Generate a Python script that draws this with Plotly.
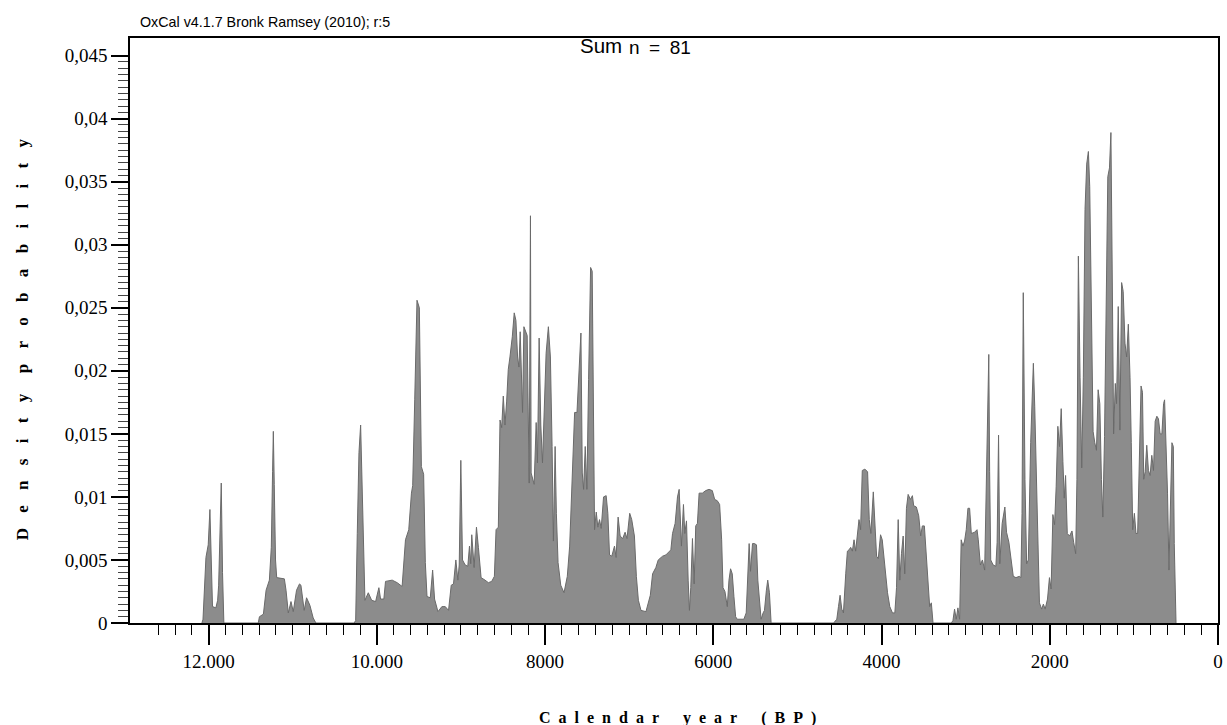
import plotly.graph_objects as go

# summed probability (calendar years BP -> density)
years = [
    12080, 12067, 12032, 12005, 11985, 11970, 11954, 11914, 11893, 11881, 11862, 11850, 11835, 11819,
    11410, 11396, 11349, 11317, 11278, 11255, 11240, 11231, 11220, 11205, 11191, 11100, 11080, 11053,
    11021, 10994, 10955, 10920, 10903, 10864, 10836, 10796, 10757, 10725,
    10270, 10252, 10233, 10213, 10193, 10180, 10165, 10142, 10102, 10062, 10015, 9976, 9956, 9917,
    9897, 9818, 9759, 9700, 9660, 9621, 9589, 9574, 9550, 9523, 9495, 9485, 9471, 9444, 9424, 9404,
    9365, 9337, 9314, 9274, 9227, 9187, 9148, 9116, 9089, 9061, 9037, 9021, 9002, 8982, 8950, 8919,
    8899, 8884, 8872, 8844, 8816, 8793, 8761, 8714, 8674, 8635, 8603, 8583, 8556, 8536, 8516, 8497,
    8477, 8457, 8438, 8418, 8390, 8367, 8347, 8327, 8311, 8296, 8280, 8268, 8252, 8233, 8213, 8189,
    8174, 8166, 8130, 8106, 8091, 8071, 8051, 8031, 8012, 7988, 7961, 7937, 7917, 7901, 7881, 7866,
    7846, 7814, 7775, 7736, 7708, 7680, 7649, 7621, 7601, 7574, 7558, 7542, 7523, 7503, 7483, 7459,
    7440, 7424, 7412, 7392, 7373, 7353, 7333, 7305, 7274, 7254, 7234, 7207, 7175, 7156, 7132, 7108,
    7077, 7049, 7026, 6994, 6970, 6938, 6915, 6891, 6860, 6801, 6781, 6749, 6722, 6683, 6655, 6603,
    6564, 6525, 6505, 6485, 6454, 6426, 6406, 6379, 6355, 6339, 6319, 6299, 6284, 6268, 6248, 6228,
    6209, 6189, 6169, 6130, 6091, 6051, 6012, 5984, 5953, 5925, 5901, 5885, 5862, 5834, 5814, 5795,
    5775, 5755, 5735, 5716, 5637, 5609, 5589, 5574, 5558, 5534, 5511, 5487, 5471, 5452, 5432, 5408,
    5392, 5369, 5353, 5333, 5313,
    4570, 4532, 4512, 4493, 4473, 4453, 4426, 4406, 4387, 4367, 4347, 4327, 4308, 4288, 4268, 4249,
    4229, 4198, 4166, 4146, 4127, 4098, 4083, 4059, 4039, 4012, 3992, 3972, 3949, 3929, 3902, 3870,
    3842, 3822, 3802, 3783, 3763, 3743, 3724, 3704, 3684, 3657, 3633, 3618, 3586, 3558, 3535, 3515,
    3491, 3467, 3447, 3428, 3408, 3388,
    3170, 3151, 3132, 3112, 3092, 3072, 3053, 3033, 3013, 2993, 2973, 2953, 2933, 2893, 2865, 2850,
    2825, 2801, 2774, 2754, 2725, 2715, 2702, 2673, 2641, 2626, 2609, 2594, 2566, 2534, 2514, 2486,
    2463, 2434, 2402, 2362, 2343, 2330, 2315, 2295, 2275, 2255, 2227, 2195, 2179, 2163, 2143, 2123,
    2096, 2076, 2055, 2027, 2004, 1984, 1963, 1943, 1924, 1904, 1884, 1864, 1844, 1828, 1812, 1792,
    1764, 1736, 1716, 1692, 1677, 1660, 1640, 1620, 1601, 1581, 1561, 1541, 1525, 1505, 1485, 1465,
    1445, 1425, 1405, 1386, 1369, 1349, 1329, 1310, 1290, 1273, 1258, 1241, 1221, 1206, 1186, 1166,
    1146, 1127, 1106, 1086, 1066, 1046, 1031, 1014, 994, 975, 955, 935, 915, 898, 883, 866,
    847, 827, 807, 787, 767, 747, 727, 708, 688, 667, 647, 635, 619, 600, 583, 568,
    548, 531, 520, 499,
]
density = [
    0, 0.0003, 0.0052, 0.0062, 0.0090, 0.0040, 0.0013, 0.0012, 0.0018, 0.0030, 0.0080, 0.0111, 0.0040, 0,
    0, 0.0005, 0.0007, 0.0026, 0.0034, 0.0060, 0.0120, 0.0152, 0.0110, 0.0050, 0.0036, 0.0035, 0.0026, 0.0008,
    0.0017, 0.0009, 0.0026, 0.0031, 0.0030, 0.0010, 0.0020, 0.0014, 0.0004, 0,
    0, 0.0002, 0.0071, 0.0135, 0.0157, 0.0120, 0.0070, 0.0018, 0.0024, 0.0018, 0.0017, 0.0028, 0.0019, 0.0019,
    0.0033, 0.0034, 0.0032, 0.0029, 0.0066, 0.0074, 0.0103, 0.0109, 0.0177, 0.0256, 0.0250, 0.0200, 0.0124, 0.0118, 0.0048, 0.0021,
    0.0020, 0.0042, 0.0019, 0.0009, 0.0013, 0.0013, 0.0010, 0.0030, 0.0031, 0.0050, 0.0034, 0.0046, 0.0129, 0.0050, 0.0046, 0.0045,
    0.0061, 0.0047, 0.0070, 0.0044, 0.0076, 0.0060, 0.0036, 0.0034, 0.0032, 0.0033, 0.0037, 0.0074, 0.0076, 0.0161, 0.0155, 0.0180,
    0.0157, 0.0176, 0.0201, 0.0211, 0.0227, 0.0246, 0.0240, 0.0211, 0.0203, 0.0231, 0.0193, 0.0167, 0.0235, 0.0231, 0.0228, 0.0111,
    0.0323, 0.0119, 0.0110, 0.0159, 0.0127, 0.0226, 0.0157, 0.0127, 0.0167, 0.0214, 0.0235, 0.0211, 0.0140, 0.0065, 0.0140, 0.0087,
    0.0048, 0.0030, 0.0024, 0.0037, 0.0061, 0.0110, 0.0167, 0.0167, 0.0198, 0.0230, 0.0119, 0.0106, 0.0140, 0.0106, 0.0193, 0.0282,
    0.0279, 0.0140, 0.0074, 0.0088, 0.0076, 0.0082, 0.0075, 0.0100, 0.0101, 0.0087, 0.0054, 0.0053, 0.0061, 0.0052, 0.0084, 0.0069,
    0.0067, 0.0072, 0.0067, 0.0087, 0.0082, 0.0069, 0.0037, 0.0018, 0.0010, 0.0009, 0.0015, 0.0022, 0.0039, 0.0044, 0.0050, 0.0053,
    0.0054, 0.0057, 0.0058, 0.0071, 0.0079, 0.0100, 0.0106, 0.0061, 0.0094, 0.0071, 0.0081, 0.0034, 0.0010, 0.0028, 0.0067, 0.0031,
    0.0077, 0.0079, 0.0103, 0.0103, 0.0105, 0.0106, 0.0105, 0.0098, 0.0097, 0.0094, 0.0066, 0.0028, 0.0025, 0.0013, 0.0034, 0.0043,
    0.0039, 0.0021, 0.0005, 0.0003, 0.0003, 0.0008, 0.0045, 0.0063, 0.0041, 0.0063, 0.0063, 0.0062, 0.0034, 0.0018, 0.0003, 0.0008,
    0.0010, 0.0026, 0.0034, 0.0024, 0,
    0, 0.0003, 0.0013, 0.0022, 0.0011, 0.0008, 0.0039, 0.0057, 0.0058, 0.0060, 0.0057, 0.0066, 0.0057, 0.0071, 0.0082, 0.0074,
    0.0121, 0.0122, 0.0120, 0.0082, 0.0071, 0.0104, 0.0082, 0.0053, 0.0051, 0.0070, 0.0066, 0.0052, 0.0032, 0.0024, 0.0013, 0.0008,
    0.0008, 0.0028, 0.0082, 0.0034, 0.0055, 0.0069, 0.0039, 0.0091, 0.0102, 0.0098, 0.0101, 0.0093, 0.0092, 0.0085, 0.0069, 0.0077,
    0.0077, 0.0053, 0.0032, 0.0013, 0.0016, 0,
    0, 0.0002, 0.0011, 0.0003, 0.0012, 0.0003, 0.0066, 0.0061, 0.0065, 0.0074, 0.0091, 0.0091, 0.0071, 0.0072, 0.0074, 0.0066,
    0.0046, 0.0050, 0.0042, 0.0116, 0.0213, 0.0120, 0.0050, 0.0046, 0.0045, 0.0064, 0.0149, 0.0047, 0.0079, 0.0092, 0.0072, 0.0064,
    0.0050, 0.0037, 0.0036, 0.0037, 0.0036, 0.0087, 0.0262, 0.0114, 0.0047, 0.0050, 0.0143, 0.0206, 0.0172, 0.0128, 0.0076, 0.0016,
    0.0011, 0.0015, 0.0011, 0.0019, 0.0036, 0.0027, 0.0086, 0.0078, 0.0108, 0.0156, 0.0140, 0.0170, 0.0128, 0.0099, 0.0117, 0.0071,
    0.0069, 0.0073, 0.0064, 0.0055, 0.0114, 0.0291, 0.0195, 0.0123, 0.0195, 0.0328, 0.0364, 0.0374, 0.0346, 0.0249, 0.0152, 0.0143,
    0.0137, 0.0185, 0.0174, 0.0114, 0.0084, 0.0148, 0.0275, 0.0354, 0.0361, 0.0389, 0.0280, 0.0150, 0.0190, 0.0174, 0.0251, 0.0153,
    0.0270, 0.0263, 0.0222, 0.0211, 0.0237, 0.0195, 0.0143, 0.0074, 0.0087, 0.0071, 0.0071, 0.0143, 0.0188, 0.0183, 0.0114, 0.0120,
    0.0141, 0.0121, 0.0117, 0.0133, 0.0121, 0.0160, 0.0164, 0.0162, 0.0150, 0.0150, 0.0174, 0.0177, 0.0145, 0.0103, 0.0042, 0.0091,
    0.0143, 0.0140, 0.0063, 0,
]

x_tickvals = [12000, 10000, 8000, 6000, 4000, 2000, 0]
x_ticktext = ['12.000', '10.000', '8000', '6000', '4000', '2000', '0']
y_tickvals = [0, 0.005, 0.01, 0.015, 0.02, 0.025, 0.03, 0.035, 0.04, 0.045]
y_ticktext = ['0', '0,005', '0,01', '0,015', '0,02', '0,025', '0,03', '0,035', '0,04', '0,045']

serif = 'Liberation Serif, Times New Roman, serif'
sans = 'Liberation Sans, Arial, sans-serif'

fig = go.Figure()
fig.add_trace(go.Scatter(
    x=years, y=density, mode='lines', fill='tozeroy',
    line=dict(color='#6a6a6a', width=1), fillcolor='#8c8c8c',
    hoverinfo='skip', showlegend=False,
))

fig.update_xaxes(
    range=[12935, 0], showgrid=False, zeroline=False,
    showline=True, linecolor='black', linewidth=1.5, mirror=True,
    tickmode='array', tickvals=x_tickvals, ticktext=x_ticktext,
    ticks='outside', ticklen=20, tickwidth=1.5, tickcolor='black',
    tickfont=dict(family=serif, size=19, color='black'),
    minor=dict(tickmode='array', tickvals=list(range(200, 12601, 200)),
               ticks='outside', ticklen=10, tickwidth=1, tickcolor='black'),
)
fig.update_yaxes(
    range=[0, 0.0464], showgrid=False, zeroline=False,
    showline=True, linecolor='black', linewidth=1.5, mirror=True,
    tickmode='array', tickvals=y_tickvals, ticktext=y_ticktext,
    ticks='outside', ticklen=17, tickwidth=1.5, tickcolor='black',
    tickfont=dict(family=serif, size=19, color='black'),
    minor=dict(tickmode='array', tickvals=[i * 0.0005 for i in range(1, 90)],
               ticks='outside', ticklen=10, tickwidth=1, tickcolor='#444'),
)

# letter-spaced axis titles
xtitle = '\u2002\u2002\u2002'.join('\u2002'.join(w) for w in ['Calendar', 'year', '(BP)'])
ytitle = '\u2002\u2002\u2009'.join('\u2002\u2009\u2009'.join(w) for w in ['Density', 'probability'])

fig.update_layout(
    width=1227, height=725,
    margin=dict(l=130, r=4, t=38, b=102),
    paper_bgcolor='white', plot_bgcolor='white',
    annotations=[
        dict(text='OxCal v4.1.7 Bronk Ramsey (2010); r:5', xref='paper', yref='paper',
             x=0.0073, y=1.027, xanchor='left', yanchor='middle', showarrow=False,
             font=dict(family=sans, size=14.3, color='black')),
        dict(text='Sum', xref='paper', yref='paper', x=0.4117, y=0.988,
             xanchor='left', yanchor='middle', showarrow=False,
             font=dict(family=sans, size=20.5, color='black')),
        dict(text='n\u2002=\u200281', xref='paper', yref='paper', x=0.4566, y=0.984,
             xanchor='left', yanchor='middle', showarrow=False,
             font=dict(family=sans, size=19, color='black')),
        dict(text='<b>' + xtitle + '</b>', xref='paper', yref='paper', x=0.503, y=-0.162,
             xanchor='center', yanchor='middle', showarrow=False,
             font=dict(family=serif, size=16, color='black')),
        dict(text='<b>' + ytitle + '</b>', xref='paper', yref='paper', x=-0.0988, y=0.484,
             xanchor='center', yanchor='middle', showarrow=False, textangle=-90,
             font=dict(family=serif, size=17, color='black')),
    ],
)

fig.write_html('out.html', config={'displayModeBar': False}, post_script=(
    "document.body.style.margin='0';"
    "document.body.style.overflow='hidden';"
    "document.documentElement.style.overflow='hidden';"
))
